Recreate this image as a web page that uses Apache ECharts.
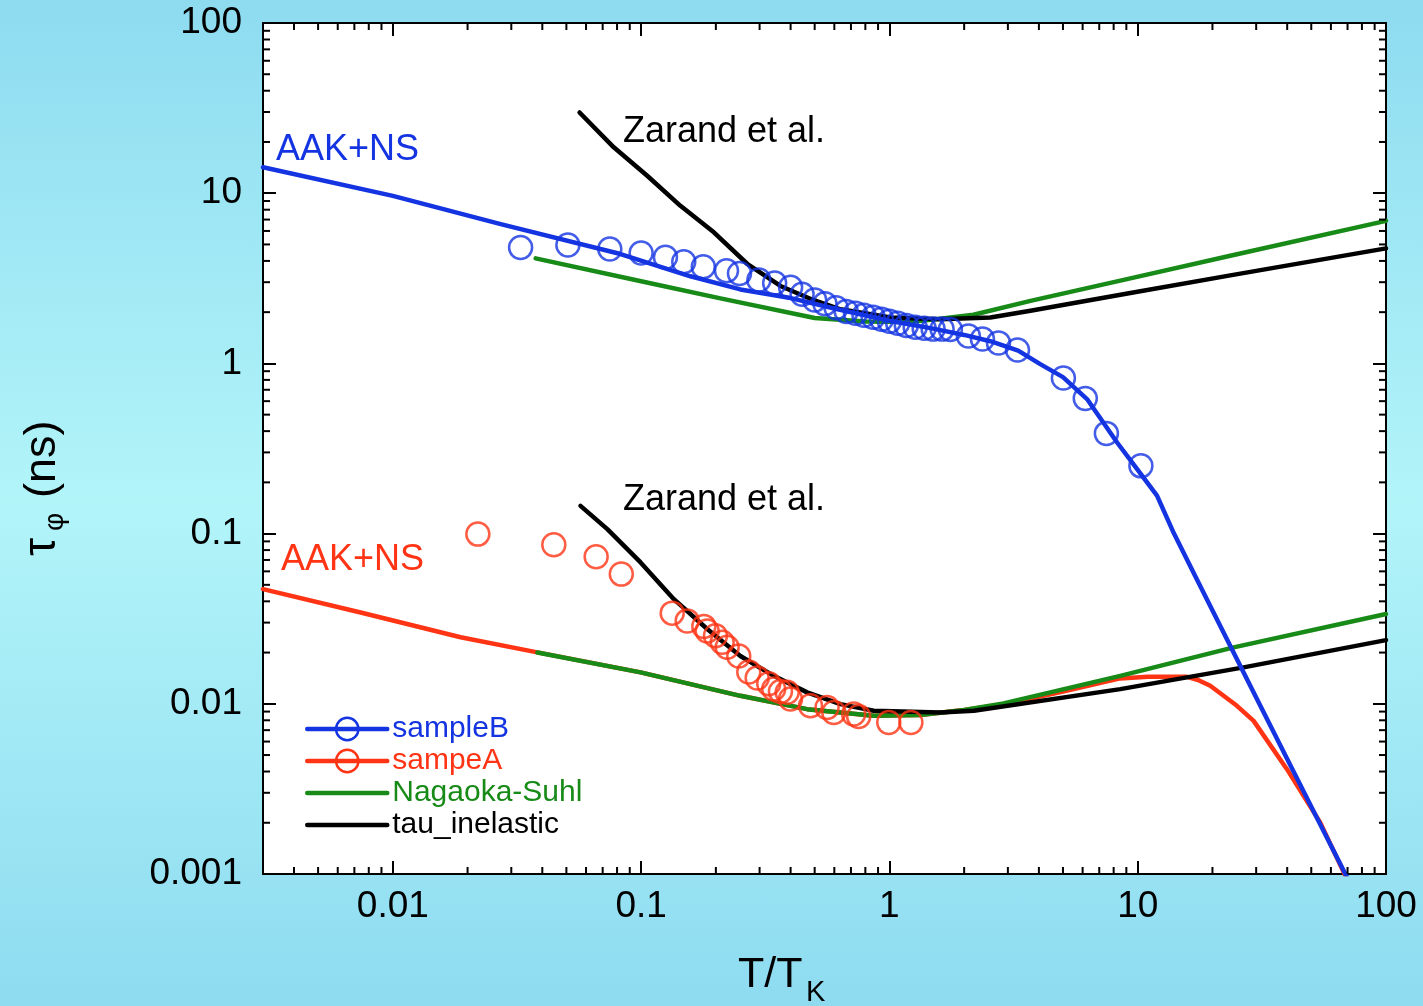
<!DOCTYPE html>
<html><head><meta charset="utf-8">
<script src="https://cdn.jsdelivr.net/npm/echarts@6/dist/echarts.min.js"></script>
<style>
html,body{margin:0;padding:0;}
body{width:1423px;height:1006px;overflow:hidden;background:linear-gradient(to bottom,#8edbf0 0%,#b2f5f9 50%,#8edbf0 100%);}
#chart{width:1423px;height:1006px;}
</style></head><body><div id="chart"></div>
<script>
// ---------- data ----------
const SAMPLE_B_T = [0.0327,0.0507,0.0748,0.100,0.1253,0.1485,0.178,0.2207,0.2490,0.298,0.345,0.400,0.445,0.50,0.55,0.61,0.67,0.73,0.79,0.86,0.93,1.00,1.08,1.17,1.27,1.38,1.50,1.63,1.76,2.08,2.37,2.75,3.28,5.02,6.15,7.48,10.3];
const SAMPLE_B_TAU = [4.80,4.96,4.70,4.45,4.20,3.95,3.70,3.50,3.37,3.09,2.97,2.80,2.55,2.36,2.24,2.12,2.02,1.97,1.92,1.87,1.82,1.77,1.72,1.67,1.63,1.61,1.59,1.59,1.58,1.45,1.39,1.32,1.20,0.82,0.623,0.388,0.250];

const SAMPLE_A_T = [0.0220,0.0445,0.0659,0.0832,0.1334,0.1533,0.1789,0.1845,0.1993,0.2121,0.2221,0.2473,0.2714,0.2934,0.3266,0.342,0.364,0.3875,0.3995,0.481,0.561,0.597,0.718,0.752,0.994,1.22];
const SAMPLE_A_TAU = [0.0993,0.0860,0.0731,0.0578,0.0341,0.0307,0.0285,0.0268,0.0251,0.0230,0.0215,0.0191,0.0154,0.0142,0.0131,0.0122,0.0118,0.0117,0.01066,0.00973,0.00952,0.00890,0.00870,0.00843,0.00777,0.00777];

const FIT_B_T = [0.003,0.01,0.0272,0.0826,0.158,0.251,0.4,0.6,1.0,1.5,2.0,2.55,3.3,4.05,5.0,6.25,8.26,10,11.96,14,17.3,24.3,30,40,54.3,72];
const FIT_B_TAU = [14.2,9.65,6.58,4.39,3.25,2.72,2.42,2.1,1.78,1.6,1.47,1.35,1.19,0.99,0.83,0.617,0.343,0.237,0.167,0.10,0.054,0.0201,0.0109,0.00474,0.00196,0.00087];

const FIT_A_T = [0.003,0.00742,0.01875,0.0382,0.0995,0.251,0.466,0.865,1.33,2.0,2.88,5.0,8.5,11,15.8,17.5,19.6,25.1,29.3,39.9,54.3,72];
const FIT_A_TAU = [0.0472,0.0344,0.0246,0.02005,0.0153,0.01114,0.0093,0.0085,0.0086,0.0092,0.0099,0.0118,0.0141,0.0144,0.0144,0.0138,0.01276,0.00973,0.00794,0.00413,0.00201,0.00084];

const NS_UP_T = [0.0376,0.1,0.2087,0.5,0.8,1.2,1.6,2.18,3.7,9.34,23.6,100];
const NS_UP_TAU = [4.14,3.04,2.41,1.85,1.76,1.75,1.83,1.93,2.33,3.16,4.29,6.88];
const NS_LO_T = [0.0382,0.0995,0.251,0.466,0.865,1.33,2.0,2.88,8.51,24.35,100];
const NS_LO_TAU = [0.0200,0.0153,0.01114,0.0093,0.0085,0.0086,0.0092,0.01006,0.0146,0.02145,0.0337];

const IN_UP_T = [0.0565,0.0776,0.1058,0.144,0.1963,0.2674,0.364,0.496,0.635,1.01,1.6,2.55,3.7,9.34,23.6,100];
const IN_UP_TAU = [29.8,18.6,12.66,8.43,5.89,3.85,2.85,2.35,2.08,1.86,1.82,1.86,2.04,2.59,3.29,4.74];
const IN_LO_T = [0.057,0.0731,0.0995,0.1355,0.1845,0.251,0.342,0.466,0.635,0.865,1.6,2.19,8.51,26.7,100];
const IN_LO_TAU = [0.1456,0.1063,0.0677,0.0412,0.0275,0.0191,0.0146,0.01167,0.00996,0.0091,0.0089,0.0091,0.0122,0.01637,0.02366];

const X_TICK_LABELS = ['0.01','0.1','1','10','100'];
const Y_TICK_LABELS = ['0.001','0.01','0.1','1','10','100'];
const MINOR_STEPS = [2,3,4,5,6,7,8,9];
const X_MIN = 0.003, X_MAX = 100, Y_MIN = 0.001, Y_MAX = 100;

// ---------- styling ----------
const FONT = '"Liberation Sans", Arial, Helvetica, sans-serif';
const BLUE = '#1434e2', RED = '#ff3414', GREEN = '#178a17', BLACK = '#000000';
const LW = 4.5;

function zip(a, b) { return a.map((v, i) => [v, b[i]]); }
function decadeLabel(v, labels) {
  const l = Math.log10(v);
  if (Math.abs(l - Math.round(l)) > 1e-6) return '';
  const s = String(+Number(v).toPrecision(1));
  return labels.indexOf(s) >= 0 ? s : '';
}
function minorValues(min, max) {
  const out = [];
  for (let e = Math.floor(Math.log10(min)); e < Math.ceil(Math.log10(max)); e++) {
    for (const m of MINOR_STEPS) {
      const v = m * Math.pow(10, e);
      if (v > min * 1.0001 && v < max * 0.9999) out.push(v);
    }
  }
  return out;
}

const chart = echarts.init(document.getElementById('chart'), null, {renderer: 'canvas'});

function lineSeries(name, t, tau, color, z) {
  return {
    type: 'line', name, data: zip(t, tau), xAxisIndex: 0, yAxisIndex: 0,
    showSymbol: false, symbol: 'circle', smooth: false,
    lineStyle: {color, width: LW, join: 'round', cap: 'round'}, itemStyle: {color}, z, silent: true
  };
}
function circleSeries(name, t, tau, color) {
  return {
    type: 'scatter', name, data: zip(t, tau), xAxisIndex: 0, yAxisIndex: 0,
    symbol: 'circle', symbolSize: 23,
    itemStyle: {color: 'rgba(0,0,0,0)', borderColor: color, borderWidth: 2.5},
    z: 6, silent: true
  };
}
function tickLine(x1, y1, x2, y2) {
  return {type: 'line', shape: {x1, y1, x2, y2}, style: {stroke: '#000', lineWidth: 2}};
}

const axisCommon = {
  type: 'log', logBase: 10,
  axisLine: {show: true, onZero: false, lineStyle: {color: '#000', width: 2}},
  axisTick: {show: true, inside: true, length: 13, lineStyle: {color: '#000', width: 2}},
  splitLine: {show: false}, minorTick: {show: false}, minorSplitLine: {show: false}
};

const option = {
  backgroundColor: 'transparent',
  animation: false,
  textStyle: {fontFamily: FONT},
  grid: {left: 263, right: 37, top: 23, bottom: 132, show: true, backgroundColor: '#ffffff', borderColor: '#000', borderWidth: 2},
  xAxis: [
    Object.assign({}, axisCommon, {
      position: 'bottom', min: X_MIN, max: X_MAX,
      axisLabel: {show: true, margin: 14, color: '#000', fontSize: 37, fontFamily: FONT,
        formatter: v => decadeLabel(v, X_TICK_LABELS)}
    }),
    Object.assign({}, axisCommon, {position: 'top', min: X_MIN, max: X_MAX, axisLabel: {show: false}})
  ],
  yAxis: [
    Object.assign({}, axisCommon, {
      position: 'left', min: Y_MIN, max: Y_MAX,
      axisLabel: {show: true, margin: 21, color: '#000', fontSize: 37, fontFamily: FONT,
        formatter: v => decadeLabel(v, Y_TICK_LABELS)}
    }),
    Object.assign({}, axisCommon, {position: 'right', min: Y_MIN, max: Y_MAX, axisLabel: {show: false}})
  ],
  legend: {
    orient: 'vertical', left: 300, top: 709, padding: 5,
    itemWidth: 80, itemHeight: 28, itemGap: 2, selectedMode: false,
    textStyle: {fontSize: 30, fontFamily: FONT, lineHeight: 28},
    data: [
      {name: 'sampleB', itemStyle: {color: 'rgba(0,0,0,0)', borderColor: BLUE, borderWidth: 2.5}, lineStyle: {color: BLUE, width: LW}, textStyle: {color: BLUE}},
      {name: 'sampeA', itemStyle: {color: 'rgba(0,0,0,0)', borderColor: RED, borderWidth: 2.5}, lineStyle: {color: RED, width: LW}, textStyle: {color: RED}},
      {name: 'Nagaoka-Suhl', itemStyle: {opacity: 0}, lineStyle: {color: GREEN, width: LW}, textStyle: {color: GREEN}},
      {name: 'tau_inelastic', itemStyle: {opacity: 0}, lineStyle: {color: BLACK, width: LW}, textStyle: {color: BLACK}}
    ]
  },
  series: [
    lineSeries('sampeA', FIT_A_T, FIT_A_TAU, RED, 2),
    lineSeries('Nagaoka-Suhl', NS_UP_T, NS_UP_TAU, GREEN, 3),
    lineSeries('Nagaoka-Suhl', NS_LO_T, NS_LO_TAU, GREEN, 3),
    lineSeries('tau_inelastic', IN_UP_T, IN_UP_TAU, BLACK, 3),
    lineSeries('tau_inelastic', IN_LO_T, IN_LO_TAU, BLACK, 3),
    lineSeries('sampleB', FIT_B_T, FIT_B_TAU, BLUE, 4),
    circleSeries('sampleB', SAMPLE_B_T, SAMPLE_B_TAU, BLUE),
    circleSeries('sampeA', SAMPLE_A_T, SAMPLE_A_TAU, RED),
    {
      type: 'custom', name: 'xMinorTicks', silent: true, z: 10,
      data: minorValues(X_MIN, X_MAX).map(v => [v, 1]), encode: {x: 0, y: 1},
      renderItem: (params, api) => {
        const cs = params.coordSys;
        const x = api.coord([api.value(0), 1])[0];
        const b = cs.y + cs.height;
        return {type: 'group', children: [tickLine(x, b, x, b - 7), tickLine(x, cs.y, x, cs.y + 7)]};
      }
    },
    {
      type: 'custom', name: 'yMinorTicks', silent: true, z: 10,
      data: minorValues(Y_MIN, Y_MAX).map(v => [1, v]), encode: {x: 0, y: 1},
      renderItem: (params, api) => {
        const cs = params.coordSys;
        const y = api.coord([1, api.value(1)])[1];
        const r = cs.x + cs.width;
        return {type: 'group', children: [tickLine(cs.x, y, cs.x + 7, y), tickLine(r, y, r - 7, y)]};
      }
    }
  ],
  graphic: [
    {type: 'text', x: 276, y: 150.5, z: 20, style: {text: 'AAK+NS', fill: BLUE, font: '36px ' + FONT, align: 'left', verticalAlign: 'middle'}},
    {type: 'text', x: 281, y: 560.5, z: 20, style: {text: 'AAK+NS', fill: RED, font: '36px ' + FONT, align: 'left', verticalAlign: 'middle'}},
    {type: 'text', x: 623, y: 132.5, z: 20, style: {text: 'Zarand et al.', fill: BLACK, font: '36px ' + FONT, align: 'left', verticalAlign: 'middle'}},
    {type: 'text', x: 623, y: 500.5, z: 20, style: {text: 'Zarand et al.', fill: BLACK, font: '36px ' + FONT, align: 'left', verticalAlign: 'middle'}},
    {type: 'group', x: 0, y: 0, children: [
      {type: 'text', x: 738, y: 975, style: {text: 'T/T', fill: BLACK, font: '43px ' + FONT, align: 'left', verticalAlign: 'middle'}},
      {type: 'text', x: 806, y: 993, style: {text: 'K', fill: BLACK, font: '29px ' + FONT, align: 'left', verticalAlign: 'middle'}}
    ]},
    {type: 'group', x: 58, y: 556, rotation: Math.PI / 2, children: [
      {type: 'text', x: 0, y: -16, style: {text: 'τ', fill: BLACK, font: '46px ' + FONT, align: 'left', verticalAlign: 'middle'}},
      {type: 'text', x: 25, y: -3, style: {text: 'φ', fill: BLACK, font: '28px ' + FONT, align: 'left', verticalAlign: 'middle'}},
      {type: 'text', x: 58, y: -15.6, style: {text: '(ns)', fill: BLACK, font: '45px ' + FONT, align: 'left', verticalAlign: 'middle'}}
    ]}
  ]
};
chart.setOption(option);
</script>
</body></html>
